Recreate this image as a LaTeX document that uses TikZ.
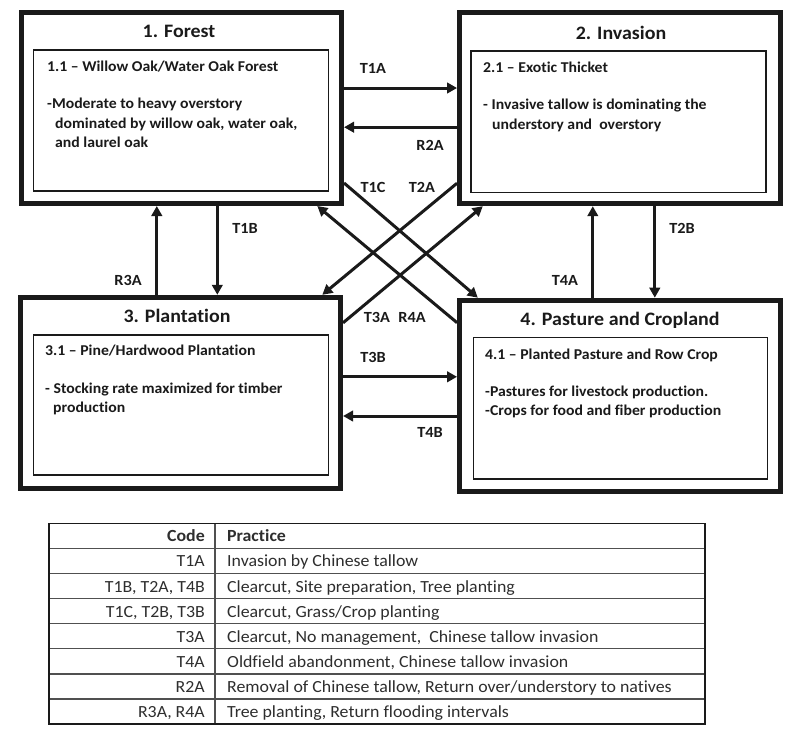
\documentclass[tikz,border=0pt]{standalone}
\usepackage{fontspec}
\setmainfont[FakeStretch=1.05,Ligatures={NoCommon}]{Carlito}
\usetikzlibrary{arrows.meta}
\definecolor{ink}{HTML}{1A1A1A}
\definecolor{tabink}{HTML}{2E2E2E}
\definecolor{tabline}{HTML}{505050}
\tikzset{
  outerbox/.style={draw=ink, line width=5pt, minimum width=320.5pt, minimum height=191pt, inner sep=0pt},
  innerbox/.style={draw=ink, line width=1.2pt, inner sep=0pt},
  boxtitle/.style={font=\bfseries\fontsize{19}{23}\selectfont, text=ink, anchor=base, inner sep=0pt},
  boxtext/.style={font=\bfseries\fontsize{15}{18}\selectfont, text=ink, anchor=base west, inner sep=0pt},
  lbl/.style={font=\bfseries\fontsize{15.5}{18}\selectfont, text=ink, inner sep=0pt},
  arr/.style={draw=ink, line width=3pt, -{Triangle[length=10pt,width=10.5pt]}},
  tabcode/.style={font=\fontsize{17}{20}\selectfont, text=tabink, anchor=base east, inner sep=0pt},
  tabprac/.style={font=\fontsize{17}{20}\selectfont, text=tabink, anchor=base west, inner sep=0pt},
  tabrule/.style={draw=tabline, line width=1.4pt}
}
\begin{document}
\begin{tikzpicture}[x=1pt,y=-1pt]
\useasboundingbox[fill=white] (0,0) rectangle (800,737);

% outer boxes
\node[outerbox] (b1) at (181.3,108) {};
\node[outerbox] (b2) at (619.8,108.2) {};
\node[outerbox] (b3) at (180.3,392.8) {};
\node[outerbox] (b4) at (619.8,395.7) {};

% inner boxes
\node[innerbox, minimum width=295pt, minimum height=141pt] (i1) at (180.8,120.5) {};
\node[innerbox, minimum width=295pt, minimum height=141.7pt] (i2) at (618.5,121.8) {};
\node[innerbox, minimum width=295pt, minimum height=140pt] (i3) at (180.8,405) {};
\node[innerbox, minimum width=294.4pt, minimum height=141.3pt] (i4) at (620.5,408.3) {};

% titles
\node[boxtitle] (t1) at (179,37.3) {1. Forest};
\node[boxtitle] (t2) at (621,39.3) {2. Invasion};
\node[boxtitle] (t3) at (177,322.7) {3. Plantation};
\node[boxtitle] (t4) at (620,325.7) {4. Pasture and Cropland};

% box texts
\node[boxtext] (s1) at (47,71) {1.1 -- Willow Oak/Water Oak Forest};
\node[boxtext] (s1a) at (47,108.3) {-Moderate to heavy overstory};
\node[boxtext] (s1b) at (55,128) {dominated by willow oak, water oak,};
\node[boxtext] (s1c) at (55,147) {and laurel oak};

\node[boxtext] (s2) at (483,72.3) {2.1 -- Exotic Thicket};
\node[boxtext] (s2a) at (483,109.3) {- Invasive tallow is dominating the};
\node[boxtext] (s2b) at (492,129.3) {understory and \ overstory};

\node[boxtext] (s3) at (45,355.7) {3.1 -- Pine/Hardwood Plantation};
\node[boxtext] (s3a) at (45,393.3) {- Stocking rate maximized for timber};
\node[boxtext] (s3b) at (53,412.7) {production};

\node[boxtext] (s4) at (485,359.3) {4.1 -- Planted Pasture and Row Crop};
\node[boxtext] (s4a) at (485,396) {-Pastures for livestock production.};
\node[boxtext] (s4b) at (485,415) {-Crops for food and fiber production};

% horizontal arrows
\draw[arr] ([yshift=20pt]b1.east) -- ([yshift=20pt]b1.east -| b2.west);
\draw[arr] ([yshift=-19pt]b2.west) -- ([yshift=-19pt]b2.west -| b1.east);
\draw[arr] ([yshift=16pt]b3.east) -- ([yshift=16pt]b3.east -| b4.west);
\draw[arr] ([yshift=-20.3pt]b4.west) -- ([yshift=-20.3pt]b4.west -| b3.east);

% vertical arrows
\draw[arr] ([xshift=36pt]b1.south) -- ([xshift=36pt]b1.south |- b3.north);
\draw[arr] ([xshift=-23.5pt]b3.north) -- ([xshift=-23.5pt]b3.north |- b1.south);
\draw[arr] ([xshift=35pt]b2.south) -- ([xshift=35pt]b2.south |- b4.north);
\draw[arr] ([xshift=-27pt]b4.north) -- ([xshift=-27pt]b4.north |- b2.south);

% diagonal arrows
\draw[arr] ([yshift=-75pt]b1.east) -- ([xshift=-142pt]b4.north);
\draw[arr] ([yshift=-75pt]b2.west) -- ([xshift=142pt]b3.north);
\draw[arr] ([yshift=73pt]b4.west) -- ([xshift=136pt]b1.south);
\draw[arr] ([yshift=70pt]b3.east) -- ([xshift=-137pt]b2.south);

% arrow labels
\node[lbl] (lT1A) at (373,68) {T1A};
\node[lbl] (lR2A) at (430,145) {R2A};
\node[lbl] (lT1B) at (245,228) {T1B};
\node[lbl] (lR3A) at (128,280) {R3A};
\node[lbl] (lT2B) at (682,228) {T2B};
\node[lbl] (lT4A) at (565,280) {T4A};
\node[lbl] (lT3B) at (373,357) {T3B};
\node[lbl] (lT4B) at (430,432) {T4B};
\node[lbl] (lT1C) at (373,187) {T1C};
\node[lbl] (lT2A) at (422,187) {T2A};
\node[lbl] (lT3A) at (377,317) {T3A};
\node[lbl] (lR4A) at (412,317) {R4A};

% table
\foreach \k in {1,...,7} {
  \draw[tabrule] (49,523.3+25.09*\k) -- (705,523.3+25.09*\k);
}
\draw[tabrule] (215,523.3) -- (215,724);
\draw[draw=ink, line width=1.6pt] (49,523.3) rectangle (705,724);

\node[tabcode, font=\bfseries\fontsize{17}{20}\selectfont] (c0) at (205,541.8) {Code};
\node[tabprac, font=\bfseries\fontsize{17}{20}\selectfont] (p0) at (227,541.8) {Practice};
\node[tabcode] (c1) at (205,566.9) {T1A};
\node[tabprac] (p1) at (227,566.9) {Invasion by Chinese tallow};
\node[tabcode] (c2) at (205,592.0) {T1B, T2A, T4B};
\node[tabprac] (p2) at (227,592.0) {Clearcut, Site preparation, Tree planting};
\node[tabcode] (c3) at (205,617.1) {T1C, T2B, T3B};
\node[tabprac] (p3) at (227,617.1) {Clearcut, Grass/Crop planting};
\node[tabcode] (c4) at (205,642.2) {T3A};
\node[tabprac] (p4) at (227,642.2) {Clearcut, No management, \ Chinese tallow invasion};
\node[tabcode] (c5) at (205,667.3) {T4A};
\node[tabprac] (p5) at (227,667.3) {Oldfield abandonment, Chinese tallow invasion};
\node[tabcode] (c6) at (205,692.4) {R2A};
\node[tabprac] (p6) at (227,692.4) {Removal of Chinese tallow, Return over/understory to natives};
\node[tabcode] (c7) at (205,717.5) {R3A, R4A};
\node[tabprac] (p7) at (227,717.5) {Tree planting, Return flooding intervals};
\end{tikzpicture}
\end{document}
